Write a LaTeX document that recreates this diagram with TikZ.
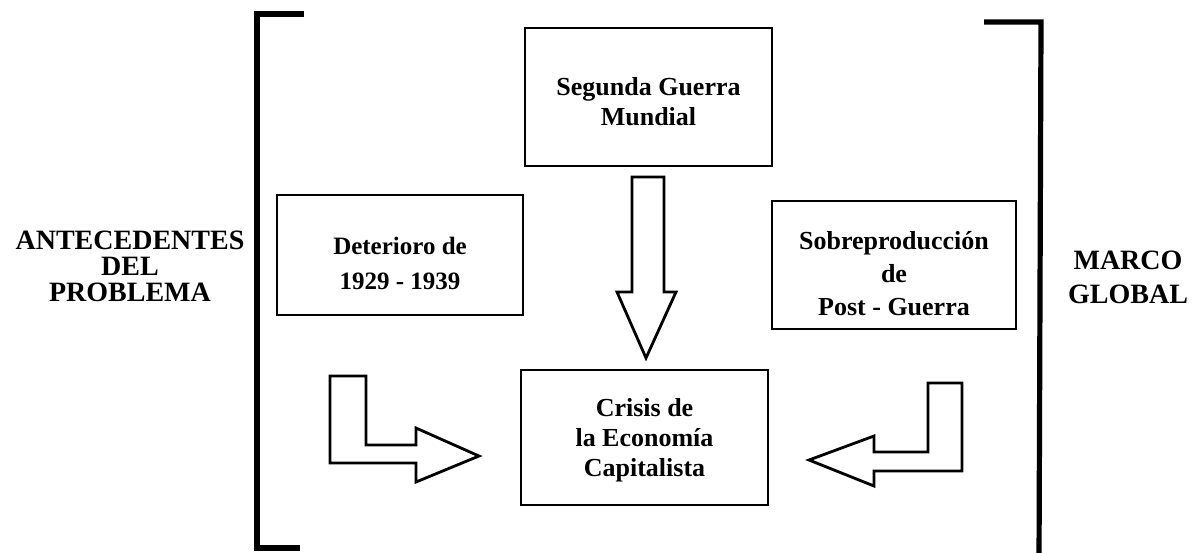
\documentclass[tikz,border=0pt]{standalone}
\usepackage{fontspec}
\setmainfont{Liberation Serif}
\usetikzlibrary{positioning}
\tikzset{
	caja/.style={draw, line width=1pt, inner sep=0pt},
	texto/.style={align=center, font=\fontsize{13}{15}\selectfont\bfseries, inner sep=0pt},
	rotulo/.style={align=center, font=\fontsize{14}{13}\selectfont\bfseries, inner sep=0pt},
	flecha/.style={draw, line width=1.4pt, line join=miter},
	corchete/.style={draw, line width=2.6pt}
}

\begin{document}
\begin{tikzpicture}[x=0.5pt, y=-0.5pt]
		%%%%% START %%%%%
		\useasboundingbox (0, 0) rectangle (1203, 552);
		
		% cajas
		\node[caja, minimum width=123.5pt, minimum height=69pt] (guerra) at (648.5, 97) {};
		\node[caja, minimum width=123pt, minimum height=60pt] (deterioro) at (400, 255) {};
		\node[caja, minimum width=122pt, minimum height=64pt] (sobre) at (894, 264.5) {};
		\node[caja, minimum width=123.5pt, minimum height=67.5pt] (crisis) at (644.5, 437.5) {};
		
		\node[texto] (guerraT) at ([yshift=-2.5pt]guerra.center) {Segunda Guerra\\Mundial};
		\node[texto, font=\fontsize{12.5}{17.5}\selectfont\bfseries] (deterioroT) at ([yshift=-4pt]deterioro.center) {Deterioro de\\1929 - 1939};
		\node[texto, font=\fontsize{13}{16.5}\selectfont\bfseries] (sobreT) at ([yshift=-4.5pt]sobre.center) {Sobreproducción\\de\\Post - Guerra};
		\node[texto] (crisisT) at ([yshift=-1.5pt]crisis.center) {Crisis de\\la Economía\\Capitalista};
		
		\node[rotulo] (antec) at (130, 266) {ANTECEDENTES\\DEL\\PROBLEMA};
		\node[rotulo, font=\fontsize{14}{17}\selectfont\bfseries] (marco) at (1128, 277) {MARCO\\GLOBAL};
		
		% corchetes
		\draw[corchete] (304, 14) -- (257, 14) -- (257, 548) -- (300, 548);
		\draw[corchete] (984, 22) -- (1041, 22) -- (1039, 560);
		
		% flechas
		\draw[flecha] (632, 177) -- (664, 177) -- (664, 292) -- (676, 292) -- (646, 358) -- (617, 292) -- (632, 292) -- cycle;
		\draw[flecha] (330, 376) -- (366, 376) -- (366, 445) -- (416, 445) -- (416, 428) -- (479, 456) -- (416, 482) -- (416, 463) -- (330, 463) -- cycle;
		\draw[flecha] (928, 383) -- (962, 383) -- (962, 471) -- (874, 471) -- (874, 486) -- (809, 460) -- (874, 436) -- (874, 452) -- (928, 452) -- cycle;
		
		%%%%% END %%%%%
	\end{tikzpicture}
\end{document}
